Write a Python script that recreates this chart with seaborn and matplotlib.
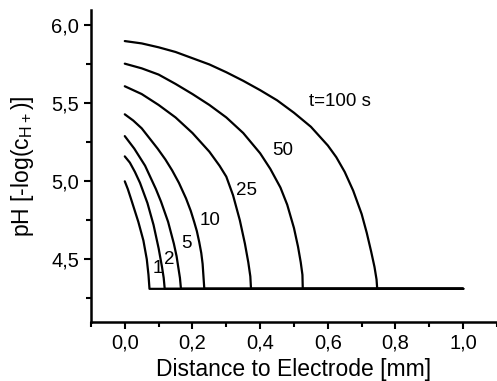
import numpy as np
import pandas as pd
import matplotlib
matplotlib.use("Agg")
import matplotlib.pyplot as plt
import seaborn as sns
from matplotlib.ticker import MultipleLocator, FuncFormatter

# values
floor_ph = 4.31
x_end = 1.0

x_t1 = [0.0, 0.009, 0.018, 0.04, 0.055, 0.065, 0.07, 0.073]
ph_t1 = [5.00, 4.95, 4.89, 4.74, 4.62, 4.50, 4.40, 4.31]

x_t2 = [0.0, 0.015, 0.03, 0.045, 0.067, 0.085, 0.1, 0.11, 0.115, 0.118]
ph_t2 = [5.16, 5.12, 5.06, 4.99, 4.86, 4.72, 4.57, 4.45, 4.38, 4.31]

x_t5 = [0.0, 0.028, 0.06, 0.092, 0.107, 0.128, 0.145, 0.153, 0.158, 0.163, 0.166]
ph_t5 = [5.29, 5.21, 5.10, 4.95, 4.87, 4.74, 4.60, 4.52, 4.45, 4.38, 4.31]

x_t10 = [0.0, 0.025, 0.05, 0.097, 0.12, 0.14, 0.16, 0.181, 0.195, 0.205, 0.213, 0.22, 0.226, 0.23, 0.235]
ph_t10 = [5.43, 5.39, 5.34, 5.21, 5.14, 5.07, 4.99, 4.89, 4.81, 4.74, 4.68, 4.61, 4.54, 4.47, 4.31]

x_t25 = [0.0, 0.05, 0.1, 0.15, 0.2, 0.25, 0.28, 0.3, 0.32, 0.34, 0.355, 0.365, 0.371, 0.373]
ph_t25 = [5.61, 5.56, 5.49, 5.41, 5.31, 5.19, 5.10, 5.03, 4.91, 4.75, 4.60, 4.48, 4.39, 4.31]

x_t50 = [0.0, 0.05, 0.1, 0.15, 0.2, 0.25, 0.3, 0.35, 0.4, 0.43, 0.46, 0.48, 0.5, 0.512, 0.52, 0.525, 0.526]
ph_t50 = [5.755, 5.725, 5.685, 5.625, 5.56, 5.49, 5.41, 5.31, 5.18, 5.08, 4.96, 4.85, 4.70, 4.58, 4.48, 4.40, 4.31]

x_t100 = [0.0, 0.05, 0.1, 0.15, 0.2, 0.25, 0.3, 0.35, 0.4, 0.45, 0.5, 0.55, 0.6,
          0.625, 0.65, 0.675, 0.7, 0.715, 0.728, 0.738, 0.744, 0.746]
ph_t100 = [5.90, 5.885, 5.86, 5.83, 5.79, 5.75, 5.70, 5.645, 5.585, 5.52, 5.44, 5.35, 5.23,
           5.155, 5.06, 4.94, 4.79, 4.67, 4.55, 4.45, 4.37, 4.31]

curve_labels = ["1", "2", "5", "10", "25", "50", "t=100 s"]
label_x = [0.081, 0.117, 0.166, 0.22, 0.328, 0.436, 0.545]
label_y = [4.44, 4.50, 4.60, 4.75, 4.94, 5.20, 5.51]

# build a long table, each curve continues along the floor to x=1
curves = [(1, x_t1, ph_t1), (2, x_t2, ph_t2), (5, x_t5, ph_t5), (10, x_t10, ph_t10),
          (25, x_t25, ph_t25), (50, x_t50, ph_t50), (100, x_t100, ph_t100)]
rows = []
for t, xs, ys in curves:
    for xv, yv in zip(xs + [x_end], ys + [floor_ph]):
        rows.append({"t": t, "x": xv, "pH": yv})
df = pd.DataFrame(rows)

sns.set_style("ticks")
plt.rcParams["font.family"] = ["Liberation Sans", "DejaVu Sans"]
plt.rcParams["mathtext.default"] = "regular"
for key in ["text.color", "axes.labelcolor", "xtick.color", "ytick.color", "axes.edgecolor"]:
    plt.rcParams[key] = "black"

fig = plt.figure(figsize=(4.97, 3.81), dpi=100)
ax = fig.add_axes([0.183, 0.156, 0.817, 0.818])

sns.lineplot(data=df, x="x", y="pH", hue="t", units="t", estimator=None,
             palette=["black"] * 7, linewidth=1.6, legend=False, sort=False, ax=ax)

for txt, lx, ly in zip(curve_labels, label_x, label_y):
    ax.text(lx, ly, txt, fontsize=13.5, ha="left", va="center")

ax.set_xlim(-0.1, 1.1)
ax.set_ylim(4.1, 6.1)
ax.xaxis.set_major_locator(MultipleLocator(0.2))
ax.xaxis.set_minor_locator(MultipleLocator(0.1))
ax.yaxis.set_major_locator(MultipleLocator(0.5))
ax.yaxis.set_minor_locator(MultipleLocator(0.25))
comma = FuncFormatter(lambda v, p: ("%.1f" % v).replace(".", ","))
ax.xaxis.set_major_formatter(comma)
ax.yaxis.set_major_formatter(comma)

ax.set_xlabel("Distance to Electrode [mm]", fontsize=16.5, labelpad=4)
ax.set_ylabel("pH [-log(c$_{H+}$)]", fontsize=16.5, labelpad=11)
ax.tick_params(axis="both", which="major", labelsize=14.5, length=5, width=1.5, direction="out")
ax.tick_params(axis="both", which="minor", length=3.5, width=1.5, direction="out")

sns.despine(ax=ax)
for side in ["left", "bottom"]:
    ax.spines[side].set_linewidth(1.8)
    ax.spines[side].set_color("black")

fig.savefig("out.png", dpi=100)
